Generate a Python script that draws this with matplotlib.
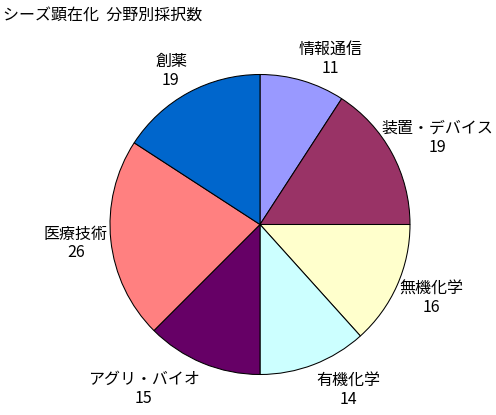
import numpy as np
import matplotlib
matplotlib.use("Agg")
import matplotlib.pyplot as plt

plt.rcParams['font.family'] = ['Noto Sans CJK JP', 'DejaVu Sans']

# --------------------------- DATA ---------------------------

title = "シーズ顕在化  分野別採択数"
fields = ["情報通信", "装置・デバイス", "無機化学", "有機化学", "アグリ・バイオ", "医療技術", "創薬"]
counts = [11, 19, 16, 14, 15, 26, 19]
colors = ["#9999FF", "#993366", "#FFFFCC", "#CCFFFF", "#660066", "#FF8080", "#0066CC"]

# --------------------------- FIGURE ---------------------------

W, H = 496, 415
fig = plt.figure(figsize=(W / 100, H / 100), dpi=100)
fig.patch.set_facecolor("white")

# pie centre (260, 224.5) px from top-left, radius 150 px
cx, cy, R = 260, H - 224.5, 150
ax = fig.add_axes([(cx - R) / W, (cy - R) / H, 2 * R / W, 2 * R / H])

wedges, _ = ax.pie(counts, colors=colors, startangle=90, counterclock=False,
                   radius=1.0, wedgeprops=dict(edgecolor="black", linewidth=0.75))
ax.set_xlim(-1, 1)
ax.set_ylim(-1, 1)
ax.set_aspect("equal")
ax.axis("off")

fs = 11.5
fig.text(3 / W, 1 - 15 / H, title, fontsize=fs, ha="left", va="center")

# --------------------------- LABELS ---------------------------

renderer = fig.canvas.get_renderer()
line_h = 19  # px between label lines
margin = 3   # px kept free at figure edges

for w, name, val in zip(wedges, fields, counts):
    ang = np.deg2rad((w.theta1 + w.theta2) / 2)
    c, s = np.cos(ang), np.sin(ang)
    t1 = fig.text(0, 0, name, fontsize=fs, ha="center", va="center")
    t2 = fig.text(0, 0, str(val), fontsize=fs, ha="center", va="center")
    bw = max(t1.get_window_extent(renderer).width, t2.get_window_extent(renderer).width)
    bh = 2 * line_h
    gap = 3 if s > -0.5 else 7
    ax_x = cx + (R + gap) * c
    ax_y = cy + (R + gap) * s
    bx = ax_x + np.clip(c * 3, -1, 1) * bw / 2
    by = ax_y + np.clip(s * 1.5, -1, 1) * bh / 2
    bx = np.clip(bx, margin + bw / 2, W - margin - bw / 2)
    t1.set_position((bx / W, (by + line_h / 2) / H))
    t2.set_position((bx / W, (by - line_h / 2) / H))

fig.savefig("out.png", dpi=100)
